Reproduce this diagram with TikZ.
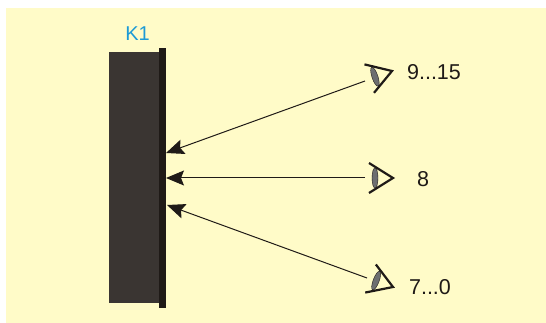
\documentclass[tikz,border=0pt]{standalone}
\usepackage{fontspec}
\setmainfont{Liberation Sans}
\usetikzlibrary{arrows.meta}
\definecolor{paper}{HTML}{FFFBC8}
\definecolor{panelgrey}{HTML}{3A3532}
\definecolor{edgeblack}{HTML}{1F1A17}
\definecolor{lensgrey}{HTML}{6D6E70}
\definecolor{labelblue}{HTML}{1C9AD6}
\tikzstyle{panel}=[fill=panelgrey, inner sep=0pt, outer sep=0pt]
\tikzstyle{edgebar}=[fill=edgeblack, inner sep=0pt, outer sep=0pt]
\tikzstyle{sight}=[-{Stealth[length=18pt, width=15pt, inset=3pt]}, edgeblack, line width=1pt]
\tikzstyle{label}=[text=edgeblack, font={\fontsize{21.5}{25}\selectfont}, inner sep=0pt]
\tikzset{eye/.pic={
    \fill[lensgrey, draw=edgeblack, line width=.4pt] (-18, 0) ellipse (3pt and 10pt);
    \draw[edgeblack, line width=2.2pt] (-24, 15) -- (0, 0) -- (-24, -15);
}}

\begin{document}
\begin{tikzpicture}[x=1pt, y=-1pt]

    \useasboundingbox (0, 0) rectangle (546, 323);
    \fill[paper] (6, 8) rectangle (546, 323);

    \node[panel, minimum width=50pt, minimum height=251pt] (panel) at (134, 177.5) {};
    \node[edgebar, minimum width=7pt, minimum height=260pt] (bar) at (162.5, 178) {};
    \node[label, text=labelblue, font={\fontsize{20}{24}\selectfont}] (name) at (137.5, 34) {K1};

    \pic[rotate=18.5] at (392, 71) {eye};
    \pic at (393, 178) {eye};
    \pic[rotate=-20.7] at (393, 287) {eye};

    \node[label] (high) at (434, 72) {9...15};
    \node[label] (mid) at (423, 179) {8};
    \node[label] (low) at (430, 287) {7...0};

    \coordinate (viewhigh) at (365, 81);
    \coordinate (viewmid) at (365, 178);
    \coordinate (viewlow) at (367, 278);
    \coordinate (hithigh) at (166, 153);
    \coordinate (hitmid) at (166, 178);
    \coordinate (hitlow) at (167, 205);

    \draw[sight] (viewhigh) -- (hithigh);
    \draw[sight] (viewmid) -- (hitmid);
    \draw[sight] (viewlow) -- (hitlow);

\end{tikzpicture}
\end{document}
